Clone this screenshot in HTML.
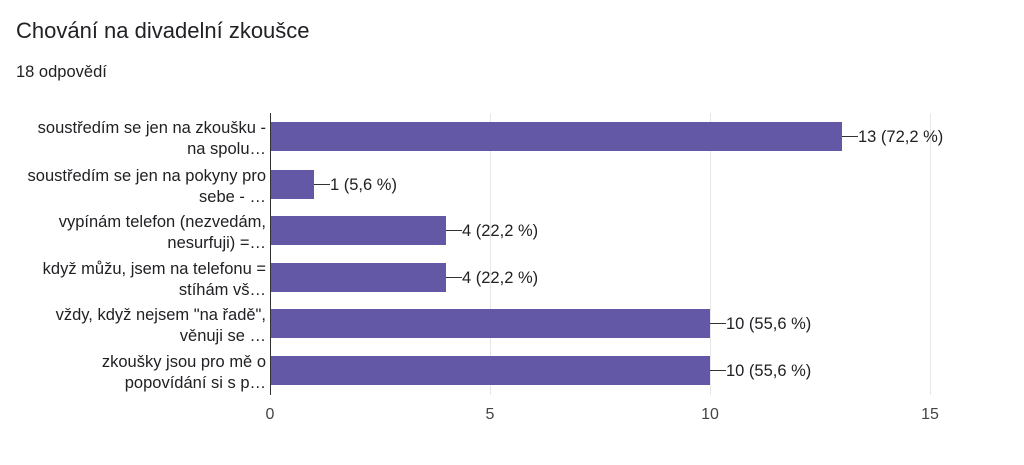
<!DOCTYPE html>
<html><head><meta charset="utf-8"><style>
body{margin:0;background:#fff;width:1024px;height:460px;overflow:hidden}
text{font-family:"Liberation Sans",sans-serif}
</style></head><body>
<svg width="1024" height="460" xmlns="http://www.w3.org/2000/svg">
<text x="16" y="38" font-size="22" fill="#202124">Chování na divadelní zkoušce</text>
<text x="16" y="77" font-size="16.5" fill="#202124">18 odpovědí</text>
<g stroke="#e6e6e6" stroke-width="1">
<line x1="490.5" y1="113" x2="490.5" y2="395"/>
<line x1="710.5" y1="113" x2="710.5" y2="395"/>
<line x1="930.5" y1="113" x2="930.5" y2="395"/>
</g>
<g fill="#6358a6">
<rect x="271" y="122" width="571" height="29"/>
<rect x="271" y="170" width="43" height="29"/>
<rect x="271" y="216" width="175" height="29"/>
<rect x="271" y="263" width="175" height="29"/>
<rect x="271" y="309" width="439" height="29"/>
<rect x="271" y="356" width="439" height="29"/>
</g>
<line x1="270.5" y1="113" x2="270.5" y2="395" stroke="#333" stroke-width="1"/>
<g stroke="#333" stroke-width="1">
<line x1="842" y1="136.5" x2="858" y2="136.5"/>
<line x1="314" y1="184.5" x2="330" y2="184.5"/>
<line x1="446" y1="230.5" x2="462" y2="230.5"/>
<line x1="446" y1="277.5" x2="462" y2="277.5"/>
<line x1="710" y1="323.5" x2="726" y2="323.5"/>
<line x1="710" y1="370.5" x2="726" y2="370.5"/>
</g>
<g font-size="16.5" fill="#202124">
<text x="858" y="142">13 (72,2 %)</text>
<text x="330" y="190">1 (5,6 %)</text>
<text x="462" y="236">4 (22,2 %)</text>
<text x="462" y="283">4 (22,2 %)</text>
<text x="726" y="329">10 (55,6 %)</text>
<text x="726" y="376">10 (55,6 %)</text>
</g>
<g font-size="16.5" fill="#202124" text-anchor="end">
<text x="266" y="133">soustředím se jen na zkoušku -</text>
<text x="266" y="154">na spolu…</text>
<text x="266" y="181">soustředím se jen na pokyny pro</text>
<text x="266" y="202">sebe - …</text>
<text x="266" y="227">vypínám telefon (nezvedám,</text>
<text x="266" y="248">nesurfuji) =…</text>
<text x="266" y="274">když můžu, jsem na telefonu =</text>
<text x="266" y="295">stíhám vš…</text>
<text x="266" y="320">vždy, když nejsem "na řadě",</text>
<text x="266" y="341">věnuji se …</text>
<text x="266" y="367">zkoušky jsou pro mě o</text>
<text x="266" y="388">popovídání si s p…</text>
</g>
<g font-size="16" fill="#444" text-anchor="middle">
<text x="270" y="419">0</text>
<text x="490" y="419">5</text>
<text x="710" y="419">10</text>
<text x="930" y="419">15</text>
</g>
</svg>
</body></html>
